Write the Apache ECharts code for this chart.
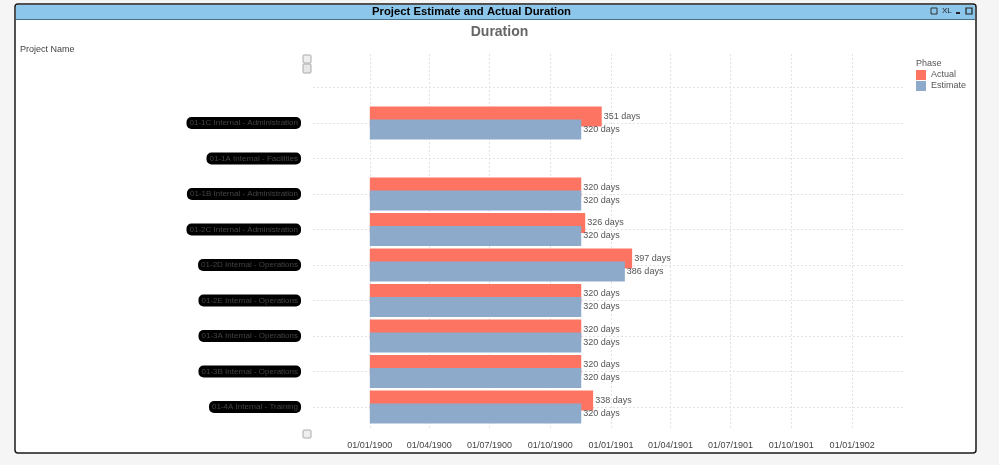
<!DOCTYPE html>
<html>
<head>
<meta charset="utf-8">
<script src="https://cdn.jsdelivr.net/npm/echarts@6/dist/echarts.min.js"></script>
<style>
html,body{margin:0;padding:0;background:#f5f5f5;}
#c{width:999px;height:465px;}
</style>
</head>
<body>
<div id="c"></div>
<script>
// ---- data ----
var categories = ['', '01-1C Internal - Administration', '01-1A Internal - Facilities',
  '01-1B Internal - Administration', '01-2C Internal - Administration', '01-2D Internal - Operations',
  '01-2E Internal - Operations', '01-3A Internal - Operations', '01-3B Internal - Operations',
  '01-4A Internal - Training'];
var actualDays   = [null, 351, null, 320, 326, 397, 320, 320, 320, 338];
var estimateDays = [null, 320, null, 320, 320, 386, 320, 320, 320, 320];
var tickDays   = [0, 90, 181, 273, 365, 455, 546, 638, 730];
var tickLabels = ['01/01/1900', '01/04/1900', '01/07/1900', '01/10/1900', '01/01/1901',
  '01/04/1901', '01/07/1901', '01/10/1901', '01/01/1902'];

var FONT = 'Liberation Sans, Arial, sans-serif';
var xMin = -86, xMax = 810;
var chart = echarts.init(document.getElementById('c'), null, {renderer: 'canvas'});

function tickLabel(v) {
  var i = tickDays.indexOf(Math.round(v));
  return i >= 0 ? tickLabels[i] : '';
}

var option = {
  animation: false,
  backgroundColor: '#f5f5f5',
  textStyle: {fontFamily: FONT},
  graphic: [
    {type: 'rect', z: -10, shape: {x: 15, y: 4, width: 961, height: 449, r: 3},
      style: {fill: '#ffffff', stroke: '#1a1a1a', lineWidth: 1.5}},
    {type: 'rect', z: -9, shape: {x: 16, y: 5, width: 959, height: 14, r: [2, 2, 0, 0]},
      style: {fill: '#8cc6ea'}},
    {type: 'line', z: -8, shape: {x1: 16, y1: 19.5, x2: 975, y2: 19.5},
      style: {stroke: '#4a6f8a', lineWidth: 1}},
    {type: 'text', left: 372, top: 6, z: 5,
      style: {text: 'Project Estimate and Actual Duration', fontFamily: FONT, fontSize: 11.3,
        fontWeight: 'bold', fill: '#000'}},
    {type: 'rect', z: 5, shape: {x: 931, y: 8, width: 6, height: 6},
      style: {fill: 'none', stroke: '#333', lineWidth: 1}},
    {type: 'text', left: 942, top: 7, z: 5,
      style: {text: 'XL', fontFamily: FONT, fontSize: 8, fill: '#222'}},
    {type: 'rect', z: 5, shape: {x: 956, y: 12, width: 4, height: 2},
      style: {fill: '#222'}},
    {type: 'rect', z: 5, shape: {x: 966, y: 8, width: 6, height: 6},
      style: {fill: 'none', stroke: '#222', lineWidth: 1.2}},
    {type: 'text', left: 'center', top: 25, z: 5,
      style: {text: 'Duration', fontFamily: FONT, fontSize: 14, fontWeight: 'bold', fill: '#666'}},
    {type: 'text', left: 20, top: 45, z: 5,
      style: {text: 'Project Name', fontFamily: FONT, fontSize: 9, fill: '#444'}},
    {type: 'text', left: 916, top: 59, z: 5,
      style: {text: 'Phase', fontFamily: FONT, fontSize: 9, fill: '#555'}},
    // scroll buttons
    {type: 'rect', z: 5, shape: {x: 303, y: 55, width: 8, height: 8, r: 1},
      style: {fill: '#eee', stroke: '#aaa', lineWidth: 1}},
    {type: 'rect', z: 5, shape: {x: 303, y: 64, width: 8, height: 9, r: 1},
      style: {fill: '#e6e6e6', stroke: '#aaa', lineWidth: 1}},
    {type: 'rect', z: 5, shape: {x: 303, y: 430, width: 8, height: 8, r: 1},
      style: {fill: '#eee', stroke: '#aaa', lineWidth: 1}}
  ],
  legend: {
    orient: 'vertical', left: 916, top: 70, padding: 0, itemWidth: 10, itemHeight: 10, itemGap: 1,
    icon: 'rect', data: ['Actual', 'Estimate'],
    textStyle: {fontFamily: FONT, fontSize: 9, color: '#555'}
  },
  grid: [
    {left: 313, right: 94, top: 87.5, bottom: 58, containLabel: false},
    {left: 313, right: 94, top: 54, bottom: 37, containLabel: false}
  ],
  xAxis: [
    {type: 'value', gridIndex: 0, min: xMin, max: xMax, show: false, splitLine: {show: false}},
    {type: 'value', gridIndex: 1, min: xMin, max: xMax,
      axisLine: {show: false},
      axisTick: {show: false, customValues: tickDays},
      axisLabel: {customValues: tickDays, formatter: tickLabel, margin: 13,
        fontFamily: FONT, fontSize: 9, color: '#444'},
      splitLine: {show: true, lineStyle: {color: '#e2e2e2', type: [2, 2], width: 1}}}
  ],
  yAxis: [
    {type: 'category', gridIndex: 0, data: categories, inverse: true, boundaryGap: false,
      axisLine: {show: false}, axisTick: {show: false},
      splitLine: {show: true, lineStyle: {color: '#e2e2e2', type: [2, 2], width: 1}},
      axisLabel: {
        margin: 12, interval: 0,
        formatter: function (v) { return v ? '{r|' + v + '}' : ''; },
        rich: {r: {fontFamily: FONT, fontSize: 8, color: '#444', backgroundColor: '#000',
          borderRadius: 5, padding: [2, 3, 2, 3]}}
      }},
    {type: 'value', gridIndex: 1, min: 0, max: 1, show: false, splitLine: {show: false}}
  ],
  series: [
    {name: 'Actual', type: 'bar', xAxisIndex: 0, yAxisIndex: 0, data: actualDays,
      barWidth: 20, barGap: '-35%', clip: false,
      itemStyle: {color: '#fd7462'},
      label: {show: true, position: 'right', distance: 2, fontFamily: FONT, fontSize: 9, color: '#555',
        formatter: function (p) { return p.value + ' days'; }}},
    {name: 'Estimate', type: 'bar', xAxisIndex: 0, yAxisIndex: 0, data: estimateDays,
      barWidth: 20, barGap: '-35%', clip: false,
      itemStyle: {color: '#8daacb'},
      label: {show: true, position: 'right', distance: 2, fontFamily: FONT, fontSize: 9, color: '#555',
        formatter: function (p) { return p.value + ' days'; }}}
  ]
};
chart.setOption(option);
</script>
</body>
</html>
